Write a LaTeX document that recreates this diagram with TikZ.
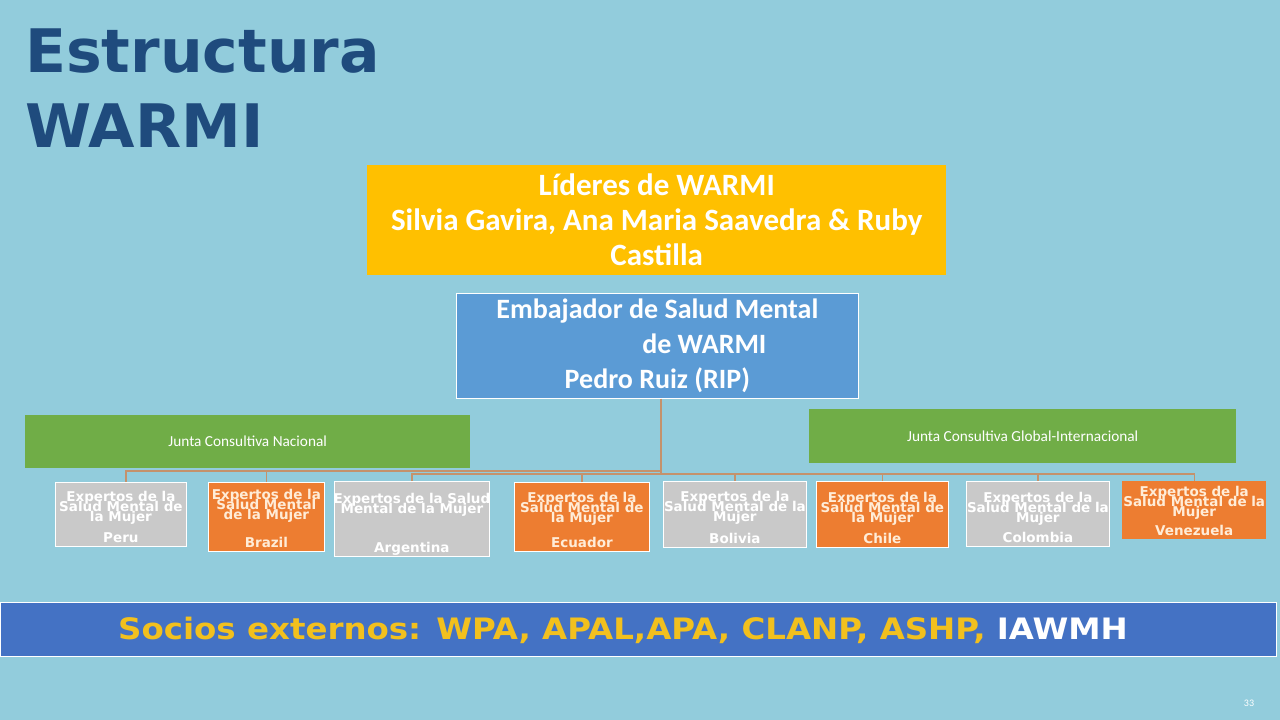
\documentclass[tikz,border=0pt]{standalone}
\usepackage{fontspec}
\setmainfont{DejaVu Sans}
\newfontfamily\calib{Carlito}
\newfontfamily\dvwide[FakeStretch=1.1]{DejaVu Sans}
\definecolor{bgc}{RGB}{146,204,220}
\definecolor{titlec}{RGB}{31,75,125}
\definecolor{yelc}{RGB}{255,192,0}
\definecolor{bluec}{RGB}{91,155,213}
\definecolor{greenc}{RGB}{112,173,71}
\definecolor{orangec}{RGB}{237,125,49}
\definecolor{grayc}{RGB}{201,201,201}
\definecolor{barc}{RGB}{68,114,196}
\definecolor{goldc}{RGB}{242,192,30}
\definecolor{connc}{RGB}{196,146,108}
\definecolor{creamc}{RGB}{255,236,215}
\newcommand{\tightlines}{\lineskiplimit=-30pt\lineskip=0pt}
\tikzset{
  titletxt/.style={font=\bfseries\fontsize{60}{75}\selectfont, text=titlec, inner sep=0pt},
  yelbox/.style={fill=yelc, inner sep=0pt, text=white, align=center,
     font=\calib\bfseries\fontsize{31}{35}\selectfont},
  bluebox/.style={fill=bluec, draw=white, line width=0.7pt, inner sep=0pt, text=white, align=center,
     font=\calib\bfseries\fontsize{28}{35}\selectfont},
  greenbox/.style={fill=greenc, inner sep=0pt, text=white,
     font=\calib\fontsize{15.3}{17}\selectfont},
  graybox/.style={fill=grayc, draw=white, line width=0.8pt, inner sep=0pt},
  orangebox/.style={fill=orangec, draw=white, line width=0.8pt, inner sep=0pt},
  orangenbbox/.style={fill=orangec, inner sep=0pt},
  graytxt/.style={text=white, inner sep=0pt, align=center, font=\bfseries\fontsize{13.5}{10}\selectfont\tightlines},
  orangetxt/.style={text=creamc, inner sep=0pt, align=center, font=\bfseries\fontsize{13.5}{10}\selectfont\tightlines},
  orangenbtxt/.style={orangetxt},
  conn/.style={draw=connc, line width=1.3pt},
  barbox/.style={fill=barc, draw=white, line width=0.8pt, inner sep=0pt},
}
\newcommand{\expbox}[9]{%
  \node[#2box, minimum width=#5pt, minimum height=#6pt, anchor=north west] (#1) at (#3,#4) {};
  \node[#2txt, anchor=north] (#1-t) at ([yshift=#9pt]#1.north) {#7};
  \node[#2txt, anchor=base] (#1-c) at ([yshift=4pt]#1.south) {#8};
}
\begin{document}
\begin{tikzpicture}[x=1pt,y=-1pt]
\fill[bgc] (0,0) rectangle (1280,720);
\useasboundingbox (0,0) rectangle (1280,720);

% title
\node[titletxt, anchor=base west] (title1) at (25,72) {Estructura};
\node[titletxt, anchor=base west] (title2) at (25,147) {WARMI};

% leaders
\node[yelbox, minimum width=579pt, minimum height=110pt, anchor=north west] (lid) at (367,165)
  {Líderes de WARMI\\Silvia Gavira, Ana Maria Saavedra \& Ruby\\Castilla};

% ambassador
\node[bluebox, minimum width=402pt, minimum height=105pt, anchor=north west] (emb) at (456,293)
  {Embajador de Salud Mental\\\hspace*{94pt}de WARMI\\Pedro Ruiz (RIP)};

% juntas
\node[greenbox, minimum width=445pt, minimum height=53pt, anchor=north west] (jnac) at (25,415)
  {Junta Consultiva Nacional};
\node[greenbox, minimum width=427pt, minimum height=54pt, anchor=north west] (jglob) at (809,409)
  {Junta Consultiva Global-Internacional};

% expert boxes
\expbox{peru}{gray}{55}{482}{131}{64}{Expertos de la\\Salud Mental de\\la Mujer}{Peru}{-9.5}
\expbox{brazil}{orange}{208}{482}{116}{69}{Expertos de la\\Salud Mental\\de la Mujer}{Brazil}{-7.5}
\expbox{argentina}{gray}{334}{481}{155}{75}{Expertos de la Salud\\Mental de la Mujer}{Argentina}{-12}
\expbox{ecuador}{orange}{514}{482}{135}{69}{Expertos de la\\Salud Mental de\\la Mujer}{Ecuador}{-10.5}
\expbox{bolivia}{gray}{663}{481}{143}{66}{Expertos de la\\Salud Mental de la\\Mujer}{Bolivia}{-10.5}
\expbox{chile}{orange}{816}{481}{132}{66}{Expertos de la\\Salud Mental de\\la Mujer}{Chile}{-11}
\expbox{colombia}{gray}{966}{481}{143}{65}{Expertos de la\\Salud Mental de la\\Mujer}{Colombia}{-11}
\expbox{venezuela}{orangenb}{1122}{481}{144}{58}{Expertos de la\\Salud Mental de la\\Mujer}{Venezuela}{-5.5}

% connectors
\coordinate (ja) at (661,471);
\coordinate (jb) at (661,474);
\draw[conn] (emb.south -| ja) -- (jb);
\draw[conn] ([xshift=5pt]peru.north) |- (ja);
\draw[conn] (brazil.north) -- (brazil.north |- ja);
\foreach \n in {argentina,ecuador,bolivia,chile,colombia,venezuela}
  {\draw[conn] (\n.north) |- (jb);}

% external partners
\node[barbox, minimum width=1276pt, minimum height=54pt, anchor=north west] (socios) at (0,602) {};
\node[anchor=base, inner sep=0pt, font=\dvwide\bfseries\fontsize{29.5}{32}\selectfont] (sociostxt) at (623,639)
  {\textcolor{goldc}{Socios externos: WPA, APAL,APA, CLANP, ASHP, }\textcolor{white}{IAWMH}};

% page number
\node[anchor=base, inner sep=0pt, text=white, font=\calib\fontsize{10}{12}\selectfont] (pnum) at (1249,706) {33};
\end{tikzpicture}
\end{document}
